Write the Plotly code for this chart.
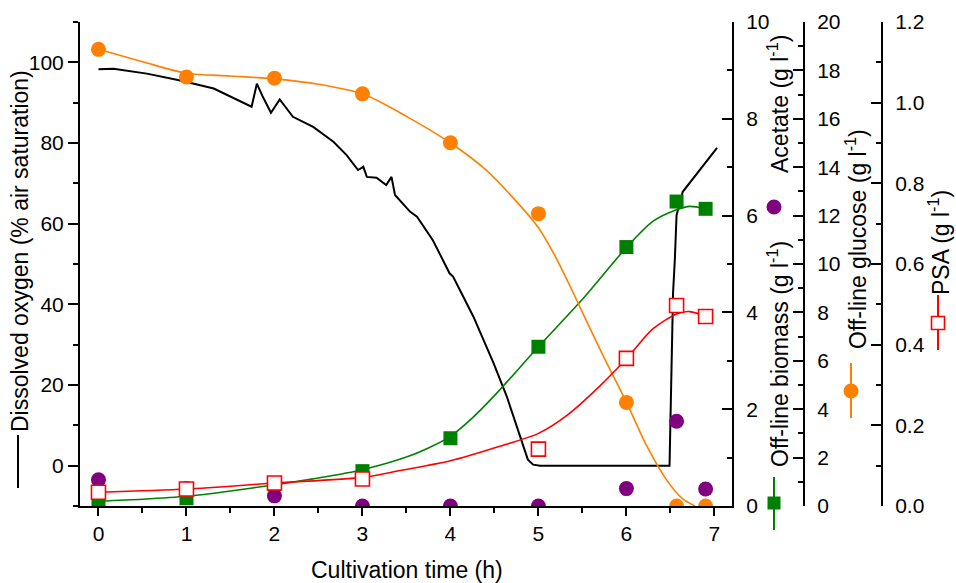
import plotly.graph_objects as go

# ---------------- data ----------------
sample_time = [0, 1, 2, 3, 4, 5, 6, 6.57, 6.9]
glucose = [18.87, 17.73, 17.68, 17.03, 15.01, 12.08, 4.28, 0.0, 0.0]
biomass = [0.09, 0.16, 0.45, 0.72, 1.40, 3.29, 5.35, 6.29, 6.14]
acetate = [0.54, 0.36, 0.21, 0.0, 0.0, 0.0, 0.36, 1.75, 0.35]
psa = [0.034, 0.042, 0.057, 0.067, None, 0.141, 0.366, 0.497, 0.470]

glu_fit_t = [0, 0.5, 1, 1.5, 2, 2.5, 3, 3.5, 4, 4.4, 4.8, 5, 5.17, 5.36, 5.5, 5.75, 6, 6.23, 6.45, 6.64, 6.78]
glu_fit = [18.87, 18.36, 17.88, 17.77, 17.65, 17.43, 17.03, 16.1, 15.0, 13.9, 12.38, 11.5, 10.46, 9.08, 8.0, 6.1, 4.29, 2.49, 1.11, 0.29, 0.0]

bio_fit_t = [0, 0.5, 1, 1.5, 2, 2.5, 3, 3.5, 3.75, 4, 4.25, 4.5, 5, 5.5, 6, 6.3, 6.57, 6.72, 6.9]
bio_fit = [0.10, 0.14, 0.20, 0.31, 0.44, 0.58, 0.75, 1.01, 1.2, 1.44, 1.82, 2.28, 3.29, 4.27, 5.34, 5.88, 6.12, 6.19, 6.14]

psa_fit_t = [0, 1, 2, 3, 3.43, 4, 4.56, 5, 5.32, 5.7, 6, 6.3, 6.57, 6.72, 6.9]
psa_fit = [0.034, 0.042, 0.057, 0.071, 0.088, 0.112, 0.148, 0.180, 0.224, 0.298, 0.365, 0.439, 0.476, 0.482, 0.470]

do_t = [0, 0.17, 0.55, 0.93, 1.31, 1.68, 1.74, 1.80, 1.86, 1.96, 2.06, 2.21, 2.44, 2.67, 2.82,
        2.95, 3.01, 3.05, 3.16, 3.27, 3.33, 3.37, 3.54, 3.62, 3.80, 3.99, 4.03, 4.26, 4.49, 4.64,
        4.77, 4.88, 4.94, 5.02, 6.49, 6.51, 6.53, 6.55, 6.57, 6.64, 6.76, 6.87, 7.03]
do_v = [98.3, 98.4, 97.2, 95.5, 93.5, 89.5, 89.0, 94.7, 91.8, 87.5, 90.8, 86.5, 84.0, 80.3, 77.0,
        73.3, 74.1, 71.6, 71.4, 69.6, 71.6, 67.1, 63.0, 61.7, 55.9, 47.7, 46.9, 37.0, 25.4, 17.2,
        8.9, 1.5, 0.25, 0.0, 0.0, 18.0, 42.8, 51.0, 62.1, 67.9, 71.2, 74.5, 78.8]

x_ticks = [0, 1, 2, 3, 4, 5, 6, 7]

# ---------------- styling ----------------
ORANGE = "#FF8000"
GREEN = "#008000"
PURPLE = "#800080"
RED = "#FF0000"
FONT = "Liberation Sans, Arial, sans-serif"

W, H = 956, 583
ML, MR, MT, MB = 80, 0, 22, 77
PW = W - ML - MR
PH = H - MT - MB


def px(x):
    return (x - ML) / PW


def py(y):
    return (H - MB - y) / PH


fig = go.Figure()

fig.add_trace(go.Scatter(x=do_t, y=do_v, mode="lines", line=dict(color="black", width=2),
                         yaxis="y", showlegend=False))

fig.add_trace(go.Scatter(x=bio_fit_t, y=bio_fit, mode="lines",
                         line=dict(color=GREEN, width=1.6, shape="spline", smoothing=0.8),
                         yaxis="y2", showlegend=False))
fig.add_trace(go.Scatter(x=sample_time, y=biomass, mode="markers",
                         marker=dict(symbol="square", size=14, color=GREEN), yaxis="y2", showlegend=False))
fig.add_trace(go.Scatter(x=sample_time, y=acetate, mode="markers",
                         marker=dict(symbol="circle", size=15, color=PURPLE), yaxis="y2", showlegend=False))

fig.add_trace(go.Scatter(x=glu_fit_t, y=glu_fit, mode="lines",
                         line=dict(color=ORANGE, width=1.6, shape="spline", smoothing=0.8),
                         yaxis="y3", showlegend=False))
fig.add_trace(go.Scatter(x=sample_time, y=glucose, mode="markers",
                         marker=dict(symbol="circle", size=15, color=ORANGE), yaxis="y3", showlegend=False))

fig.add_trace(go.Scatter(x=psa_fit_t, y=psa_fit, mode="lines",
                         line=dict(color=RED, width=1.6, shape="spline", smoothing=0.8),
                         yaxis="y4", showlegend=False))
fig.add_trace(go.Scatter(x=sample_time, y=psa, mode="markers",
                         marker=dict(symbol="square", size=14, color="white", line=dict(color=RED, width=1.6)),
                         yaxis="y4", showlegend=False))

tickfont = dict(family=FONT, size=21, color="black")
common = dict(showgrid=False, zeroline=False, showline=True, linecolor="black", linewidth=2,
              tickcolor="black", tickwidth=2, tickfont=tickfont, automargin=False)

right_common = dict(common, side="right", overlaying="y", ticks="inside", ticklen=10,
                    ticklabelstandoff=8)

fig.update_layout(
    width=W, height=H,
    margin=dict(l=ML, r=MR, t=MT, b=MB),
    paper_bgcolor="white", plot_bgcolor="white",
    font=dict(family=FONT, size=23, color="black"),
    xaxis=dict(common, domain=[0, px(732)], range=[-0.21, 7.2], tickvals=x_ticks,
               ticks="outside", ticklen=8, anchor="y",
               minor=dict(dtick=0.5, tick0=0, ticks="outside", ticklen=5, tickwidth=2, tickcolor="black")),
    yaxis=dict(common, range=[-10, 110], tick0=0, dtick=20, ticks="outside", ticklen=10,
               minor=dict(dtick=10, tick0=0, ticks="outside", ticklen=5, tickwidth=2, tickcolor="black")),
    yaxis2=dict(right_common, anchor="x", range=[0, 10], tick0=0, dtick=2,
                minor=dict(dtick=1, tick0=0, ticks="inside", ticklen=5, tickwidth=2, tickcolor="black")),
    yaxis3=dict(right_common, anchor="free", position=px(804), range=[0, 20], tick0=0, dtick=2,
                minor=dict(dtick=1, tick0=0, ticks="inside", ticklen=5, tickwidth=2, tickcolor="black")),
    yaxis4=dict(right_common, anchor="free", position=px(882), range=[0, 1.2], tick0=0, dtick=0.2,
                tickformat=".1f",
                minor=dict(dtick=0.1, tick0=0, ticks="inside", ticklen=5, tickwidth=2, tickcolor="black")),
)

titles = [
    ("Dissolved oxygen (% air saturation)", 20, 251, -90),
    ("Acetate (g l<sup>-1</sup>)", 778, 104, -90),
    ("Off-line biomass (g l<sup>-1</sup>)", 778, 354, -90),
    ("Off-line glucose (g l<sup>-1</sup>)", 856, 239, -90),
    ("PSA (g l<sup>-1</sup>)", 939, 243, -90),
    ("Cultivation time (h)", 407, 570, 0),
]
for text, x, y, ang in titles:
    fig.add_annotation(text=text, x=px(x), y=py(y), xref="paper", yref="paper",
                       showarrow=False, textangle=ang, xanchor="center", yanchor="middle",
                       font=dict(family=FONT, size=23, color="black"))


def vline(x, y0, y1, color):
    fig.add_shape(type="line", xref="paper", yref="paper", x0=px(x), x1=px(x), y0=py(y0), y1=py(y1),
                  line=dict(color=color, width=2))


def marker_shape(kind, x, y, d, fill, line_color=None, lw=0):
    fig.add_shape(type=kind, xref="paper", yref="paper", xsizemode="pixel", ysizemode="pixel",
                  xanchor=px(x), yanchor=py(y), x0=-d / 2, x1=d / 2, y0=-d / 2, y1=d / 2,
                  fillcolor=fill, line=dict(color=line_color or fill, width=lw))


vline(18, 435, 488, "black")
marker_shape("circle", 774, 207, 15, PURPLE)
vline(774, 477, 530, GREEN)
marker_shape("rect", 774, 503, 13, GREEN)
vline(851, 363, 418, ORANGE)
marker_shape("circle", 851, 391, 15, ORANGE)
vline(938, 295, 350, RED)
marker_shape("rect", 938, 323, 13, "white", RED, 1.6)

fig.write_html("out.html")
